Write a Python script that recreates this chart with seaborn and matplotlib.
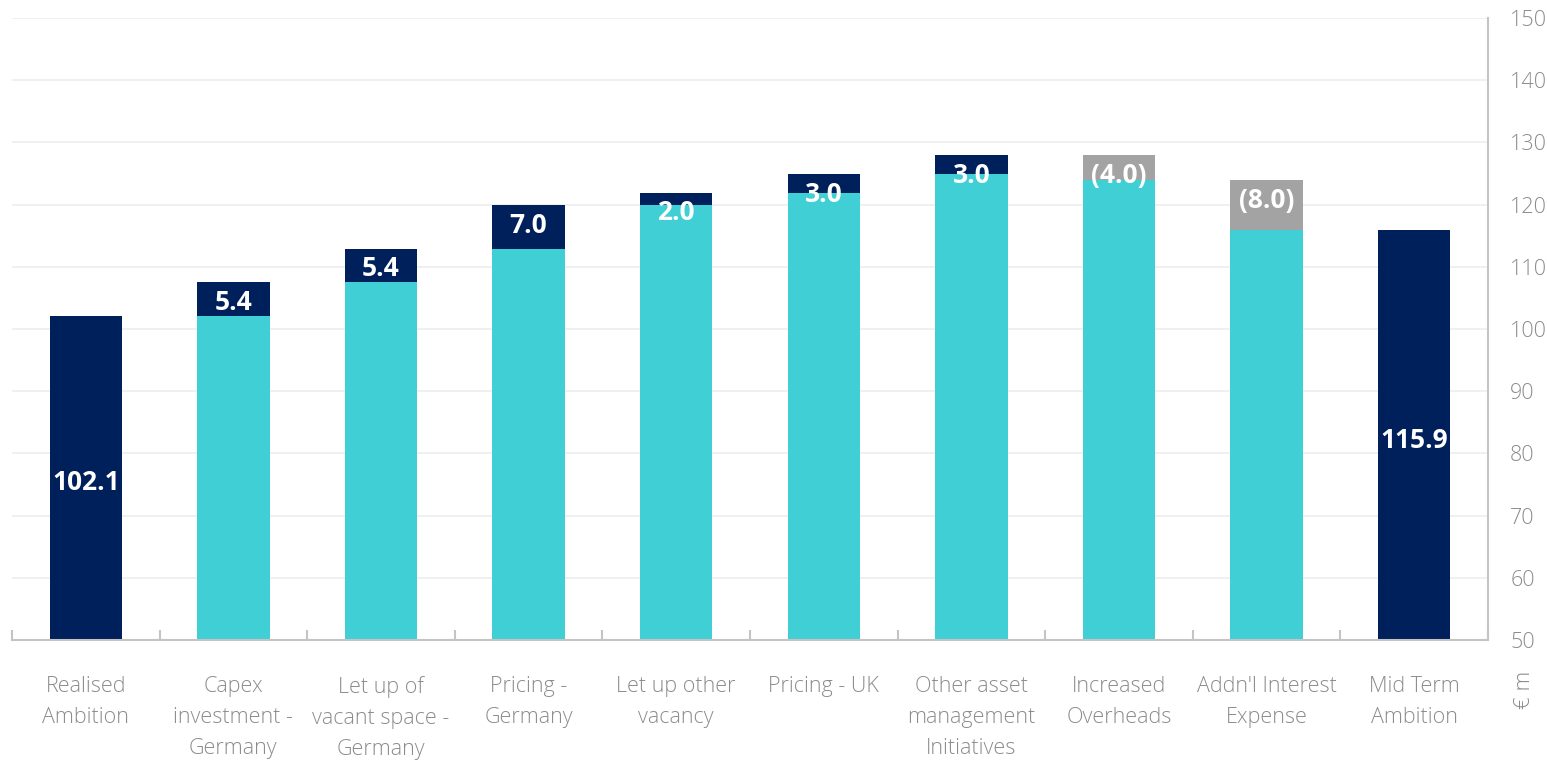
import numpy as np
import pandas as pd
import matplotlib
matplotlib.use("Agg")
import matplotlib.pyplot as plt
from matplotlib.ticker import MultipleLocator, FixedLocator
import seaborn as sns

# 数据
categories = ["Realised\nAmbition", "Capex\ninvestment -\nGermany", "Let up of\nvacant space -\nGermany",
              "Pricing -\nGermany", "Let up other\nvacancy", "Pricing - UK",
              "Other asset\nmanagement\nInitiatives", "Increased\nOverheads",
              "Addn'l Interest\nExpense", "Mid Term\nAmbition"]
start_value = 102.1
changes = [5.4, 5.4, 7.0, 2.0, 3.0, 3.0, -4.0, -8.0]
end_value = 115.9
value_labels = ["102.1", "5.4", "5.4", "7.0", "2.0", "3.0", "3.0", "(4.0)", "(8.0)", "115.9"]

navy = "#00205C"
teal = "#41CFD6"
grey = "#A3A3A3"
txt_grey = "#8C8C8C"

# 瀑布图计算
running = start_value + np.cumsum([0] + changes)
tops, bases, kinds = [start_value], [0.0], ["total"]
for i, c in enumerate(changes):
    lo, hi = sorted([running[i], running[i + 1]])
    tops.append(hi)
    bases.append(lo)
    kinds.append("up" if c > 0 else "down")
tops.append(end_value)
bases.append(0.0)
kinds.append("total")

df = pd.DataFrame({"cat": categories, "top": tops, "base": bases, "kind": kinds})

sns.set_style("white")
plt.rcParams["font.family"] = ["Open Sans", "DejaVu Sans"]

fig = plt.figure(figsize=(15.47, 7.61), dpi=100)
ax = fig.add_axes([12 / 1547, 1 - 640 / 761, (1488 - 12) / 1547, (640 - 18) / 761])

sns.barplot(data=df, x="cat", y="top", hue="kind", order=categories,
            palette={"total": navy, "up": navy, "down": grey},
            dodge=False, width=0.49, legend=False, saturation=1,
            linewidth=0, edgecolor="none", ax=ax, zorder=2)
sns.barplot(data=df, x="cat", y="base", order=categories, color=teal,
            width=0.49, saturation=1, linewidth=0, edgecolor="none", ax=ax, zorder=3)

ax.set_ylim(50, 150)
ax.set_xlim(-0.5, len(categories) - 0.5)
ax.yaxis.set_major_locator(MultipleLocator(10))
ax.yaxis.tick_right()
ax.grid(axis="y", color="#EDEDED", lw=1.2, zorder=0)
ax.set_axisbelow(True)
for s in ["left", "top"]:
    ax.spines[s].set_visible(False)
for s in ["bottom", "right"]:
    ax.spines[s].set_color("#C4C4C4")
    ax.spines[s].set_linewidth(1.5)
    ax.spines[s].set_zorder(5)

ax.tick_params(axis="y", length=0, pad=16, labelsize=15.5, labelcolor=txt_grey)
ax.tick_params(axis="x", length=0, pad=26, labelsize=15.5, labelcolor=txt_grey)
for lab in ax.get_xticklabels() + ax.get_yticklabels():
    lab.set_fontweight("light")
for lab in ax.get_xticklabels():
    lab.set_linespacing(1.62)
ax.xaxis.set_minor_locator(FixedLocator(np.arange(-0.5, len(categories), 1.0)))
ax.tick_params(axis="x", which="minor", bottom=True, length=7, width=1.5,
               color="#C4C4C4", direction="in")
ax.set_xlabel("")
ax.set_ylabel("")

# 数值标签
for i, row in df.iterrows():
    if row["kind"] == "total":
        y = (50 + row["top"]) / 2 - 0.8
    else:
        y = row["top"] - 3.2
    ax.text(i, y, value_labels[i], ha="center", va="center", color="white",
            fontsize=19, fontweight="bold", zorder=6)

fig.text(1525 / 1547, 1 - 690 / 761, "€ m", rotation=90, ha="center", va="center",
         fontsize=16, color=txt_grey, fontweight="light")

fig.savefig("out.png", dpi=100)
